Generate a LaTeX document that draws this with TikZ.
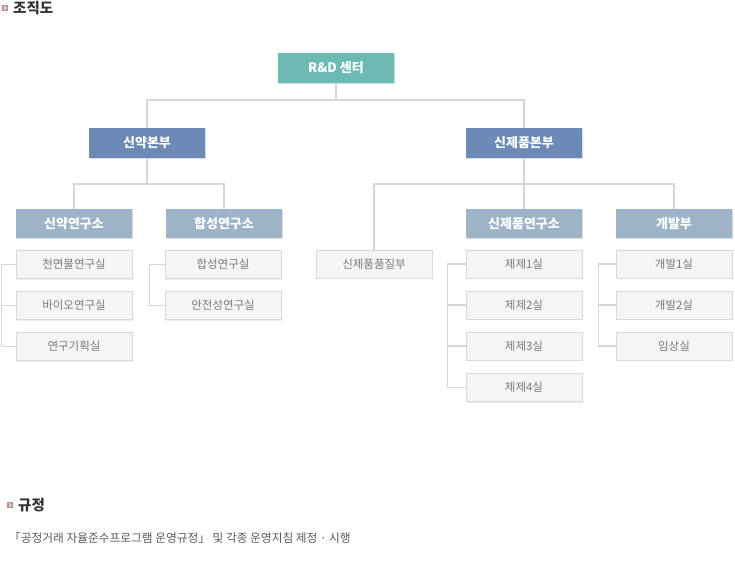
\documentclass[tikz,border=0pt]{standalone}
\usepackage{fontspec}
\setmainfont{Noto Sans CJK KR}
\usepackage{tikz}
\usepackage{color}
\usetikzlibrary{shadows}

\definecolor{topcol}{HTML}{6DBAB4}
\definecolor{hqcol}{HTML}{6B8AB6}
\definecolor{labcol}{HTML}{9DB4C8}
\definecolor{roomfill}{HTML}{F5F5F5}
\definecolor{roomline}{HTML}{D9D9D9}
\definecolor{roomtext}{HTML}{7A7A7A}
\definecolor{linkcol}{HTML}{D6D6D6}
\definecolor{iconcol}{HTML}{B9968A}

\begin{document}
\begin{tikzpicture}[x=1pt, y=-1pt]%
	\tikzstyle{box}=[rectangle, minimum width=116pt, minimum height=30pt, inner sep=0pt, text=white, font=\fontsize{13}{15}\selectfont\bfseries, drop shadow={shadow xshift=1pt, shadow yshift=-1pt, fill=black!40, opacity=0.35}];
	\tikzstyle{topbox}=[box, fill=topcol];
	\tikzstyle{hqbox}=[box, fill=hqcol];
	\tikzstyle{labbox}=[box, fill=labcol, minimum height=29pt];
	\tikzstyle{roombox}=[rectangle, draw=roomline, fill=roomfill, minimum width=116pt, minimum height=28pt, inner sep=0pt, text=roomtext, font=\fontsize{11.5}{13}\selectfont, drop shadow={shadow xshift=1pt, shadow yshift=-1pt, fill=black!30, opacity=0.25}];
	\tikzstyle{link}=[draw=linkcol, line width=1.2pt];
	\useasboundingbox (0, 0) rectangle (735, 573);
	% headings
	\fill[iconcol] (2, 5) rectangle (8, 11);
	\draw[white, line width=0.8pt] (4.2, 6.4) -- (6, 8) -- (4.2, 9.6);
	\node[anchor=west, inner sep=0pt, text=black!80, font=\fontsize{14.5}{16}\selectfont\bfseries] (title) at (13, 8) {조직도};
	\fill[iconcol] (7, 502) rectangle (13, 508);
	\draw[white, line width=0.8pt] (9.2, 503.4) -- (11, 505) -- (9.2, 506.6);
	\node[anchor=west, inner sep=0pt, text=black!80, font=\fontsize{14.5}{16}\selectfont\bfseries] (rules) at (18, 505) {규정};
	\node[anchor=west, inner sep=0pt, text=black!65, font=\fontsize{11.7}{13}\selectfont] (rulestext) at (9, 538) {「공정거래 자율준수프로그램 운영규정」 및 각종 운영지침 제정 · 시행};
	% bus points
	\coordinate (bus0) at (336, 100);
	\coordinate (bus1) at (147, 184);
	\coordinate (bus2) at (524, 184);
	% boxes
	\node (rnd) at (336, 68) [topbox] {R\&D 센터};
	\node (hqa) at (147, 143) [hqbox] {신약본부};
	\node (hqb) at (524, 143) [hqbox] {신제품본부};
	\node (laba) at (74, 223.5) [labbox] {신약연구소};
	\node (labb) at (224, 223.5) [labbox] {합성연구소};
	\node (labc) at (524, 223.5) [labbox] {신제품연구소};
	\node (dev) at (674, 223.5) [labbox] {개발부};
	\node (qa) at (374, 264) [roombox] {신제품품질부};
	\node (ra1) at (74, 264.5) [roombox] {천연물연구실};
	\node (ra2) at (74, 305.5) [roombox] {바이오연구실};
	\node (ra3) at (74, 346.5) [roombox] {연구기획실};
	\node (rb1) at (223, 264.5) [roombox] {합성연구실};
	\node (rb2) at (223, 305.5) [roombox] {안전성연구실};
	\node (rc1) at (524, 264) [roombox] {제제1실};
	\node (rc2) at (524, 305) [roombox] {제제2실};
	\node (rc3) at (524, 346) [roombox] {제제3실};
	\node (rc4) at (524, 387.5) [roombox] {제제4실};
	\node (rd1) at (674, 264) [roombox] {개발1실};
	\node (rd2) at (674, 305) [roombox] {개발2실};
	\node (rd3) at (674, 346) [roombox] {임상실};
	% links
	\draw[link] (rnd.south) -- (bus0);
	\draw[link] (hqa.north) |- (bus0) -| (hqb.north);
	\draw[link] (hqa.south) -- (bus1);
	\draw[link] (laba.north) |- (bus1) -| (labb.north);
	\draw[link] (hqb.south) -- (labc.north);
	\draw[link] (qa.north) |- (bus2) -| (dev.north);
	% room brackets
	\draw[link] (ra1.west) -- ++(-14, 0) |- (ra3.west);
	\draw[link] (ra2.west) -- ++(-14, 0);
	\draw[link] (rb1.west) -- ++(-15, 0) |- (rb2.west);
	\draw[link] (rc1.west) -- ++(-18, 0) |- (rc4.west);
	\draw[link] (rc2.west) -- ++(-18, 0);
	\draw[link] (rc3.west) -- ++(-18, 0);
	\draw[link] (rd1.west) -- ++(-17, 0) |- (rd3.west);
	\draw[link] (rd2.west) -- ++(-17, 0);
\end{tikzpicture}
\end{document}
